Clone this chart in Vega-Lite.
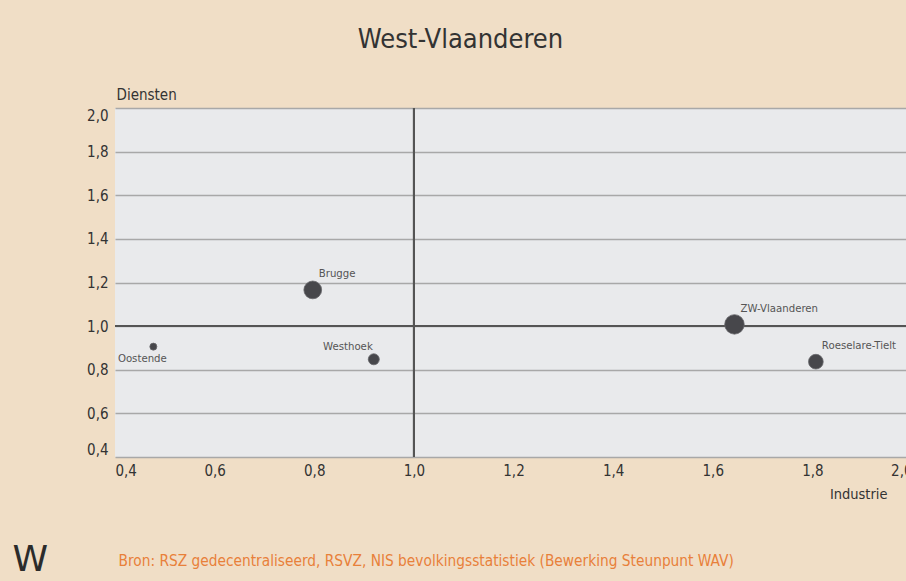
{
  "$schema": "https://vega.github.io/schema/vega-lite/v6.json",
  "autosize": "none",
  "width": 797,
  "height": 349,
  "padding": {"left": 115, "top": 108, "right": -6, "bottom": 124},
  "background": "#f0dec6",
  "title": {
    "text": "West-Vlaanderen",
    "anchor": "middle",
    "frame": "group",
    "dx": -53,
    "offset": 33,
    "fontSize": 27,
    "font": "DejaVu Sans Condensed",
    "fontWeight": "normal",
    "color": "#333333"
  },
  "config": {
    "view": {"fill": "#e9eaec", "stroke": null},
    "font": "DejaVu Sans Condensed"
  },
  "data": {
    "values": [
      {"regio": "Oostende", "industrie": 0.477, "diensten": 0.906, "grootte": 13},
      {"regio": "Westhoek", "industrie": 0.9195, "diensten": 0.848, "grootte": 32},
      {"regio": "Brugge", "industrie": 0.797, "diensten": 1.166, "grootte": 83},
      {"regio": "ZW-Vlaanderen", "industrie": 1.6436, "diensten": 1.008, "grootte": 100},
      {"regio": "Roeselare-Tielt", "industrie": 1.807, "diensten": 0.837, "grootte": 57}
    ]
  },
  "resolve": {"axis": {"x": "independent", "y": "independent"}},
  "layer": [
    {
      "mark": {"type": "rule", "color": "#555555", "strokeWidth": 1.8},
      "encoding": {
        "x": {
          "datum": 1,
          "type": "quantitative",
          "scale": {"domain": [0.4, 2.0], "nice": false, "zero": false},
          "axis": {
            "title": "Bron: RSZ gedecentraliseerd, RSVZ, NIS bevolkingsstatistiek (Bewerking Steunpunt WAV)",
            "orient": "top",
            "labels": false,
            "ticks": false,
            "domain": false,
            "grid": false,
            "titleX": 3,
            "titleY": 457,
            "titleAlign": "left",
            "titleBaseline": "alphabetic",
            "titleFontSize": 15.3,
            "titleFontWeight": "normal",
            "titleColor": "#e8803a",
            "titleFont": "DejaVu Sans Condensed"
          }
        }
      }
    },
    {
      "mark": {"type": "rule", "color": "#555555", "strokeWidth": 1.8},
      "encoding": {
        "y": {
          "datum": 1,
          "type": "quantitative",
          "scale": {"domain": [0.4, 2.0], "nice": false, "zero": false},
          "axis": {
            "title": "W",
            "orient": "right",
            "labels": false,
            "ticks": false,
            "domain": false,
            "grid": false,
            "titleAngle": 0,
            "titleX": -900,
            "titleY": 462,
            "titleAlign": "left",
            "titleBaseline": "alphabetic",
            "titleFontSize": 36,
            "titleFontWeight": "normal",
            "titleColor": "#2b2b2b",
            "titleFont": "DejaVu Sans"
          }
        }
      }
    },
    {
      "mark": {"type": "circle", "opacity": 1, "color": "#47474b", "stroke": "#67676b", "strokeWidth": 0.8},
      "encoding": {
        "x": {
          "field": "industrie",
          "type": "quantitative",
          "scale": {"domain": [0.4, 2.0], "nice": false, "zero": false},
          "axis": {
            "title": "Industrie",
            "values": [0.4, 0.6, 0.8, 1.0, 1.2, 1.4, 1.6, 1.8, 2.0],
            "labelExpr": "replace(format(datum.value, '.1f'), '.', ',')",
            "labelFlush": true,
            "labelFontSize": 15,
            "labelColor": "#333333",
            "labelPadding": 6,
            "labelFont": "DejaVu Sans Condensed",
            "ticks": false,
            "domain": false,
            "grid": false,
            "titleX": 772,
            "titleY": 41,
            "titleAlign": "right",
            "titleBaseline": "alphabetic",
            "titleFontSize": 14.5,
            "titleFontWeight": "normal",
            "titleColor": "#333333",
            "titleFont": "DejaVu Sans Condensed"
          }
        },
        "y": {
          "field": "diensten",
          "type": "quantitative",
          "scale": {"domain": [0.4, 2.0], "nice": false, "zero": false},
          "axis": {
            "title": "Diensten",
            "values": [0.4, 0.6, 0.8, 1.0, 1.2, 1.4, 1.6, 1.8, 2.0],
            "labelExpr": "replace(format(datum.value, '.1f'), '.', ',')",
            "labelFlush": true,
            "labelFontSize": 15,
            "labelColor": "#333333",
            "labelPadding": 7,
            "labelFont": "DejaVu Sans Condensed",
            "ticks": false,
            "domain": false,
            "grid": true,
            "gridColor": "#a8a8a8",
            "gridWidth": 1.5,
            "titleAngle": 0,
            "titleX": 1,
            "titleY": -9,
            "titleAlign": "left",
            "titleBaseline": "alphabetic",
            "titleFontSize": 15,
            "titleFontWeight": "normal",
            "titleColor": "#333333",
            "titleFont": "DejaVu Sans Condensed"
          }
        },
        "size": {
          "field": "grootte",
          "type": "quantitative",
          "scale": {"domain": [0, 100], "range": [0, 380]},
          "legend": null
        }
      }
    },
    {
      "transform": [{"filter": "indexof(['Brugge','ZW-Vlaanderen','Roeselare-Tielt'], datum.regio) >= 0"}],
      "mark": {"type": "text", "align": "left", "baseline": "alphabetic", "dx": 6, "dy": -12.5, "fontSize": 11.3, "color": "#555555", "font": "DejaVu Sans Condensed"},
      "encoding": {
        "x": {"field": "industrie", "type": "quantitative", "axis": null},
        "y": {"field": "diensten", "type": "quantitative", "axis": null},
        "text": {"field": "regio"}
      }
    },
    {
      "transform": [{"filter": "datum.regio == 'Westhoek'"}],
      "mark": {"type": "text", "align": "right", "baseline": "alphabetic", "dx": -1, "dy": -9.5, "fontSize": 11.3, "color": "#555555", "font": "DejaVu Sans Condensed"},
      "encoding": {
        "x": {"field": "industrie", "type": "quantitative", "axis": null},
        "y": {"field": "diensten", "type": "quantitative", "axis": null},
        "text": {"field": "regio"}
      }
    },
    {
      "transform": [{"filter": "datum.regio == 'Oostende'"}],
      "mark": {"type": "text", "align": "center", "baseline": "alphabetic", "dx": -11, "dy": 15, "fontSize": 11.3, "color": "#555555", "font": "DejaVu Sans Condensed"},
      "encoding": {
        "x": {"field": "industrie", "type": "quantitative", "axis": null},
        "y": {"field": "diensten", "type": "quantitative", "axis": null},
        "text": {"field": "regio"}
      }
    }
  ]
}
